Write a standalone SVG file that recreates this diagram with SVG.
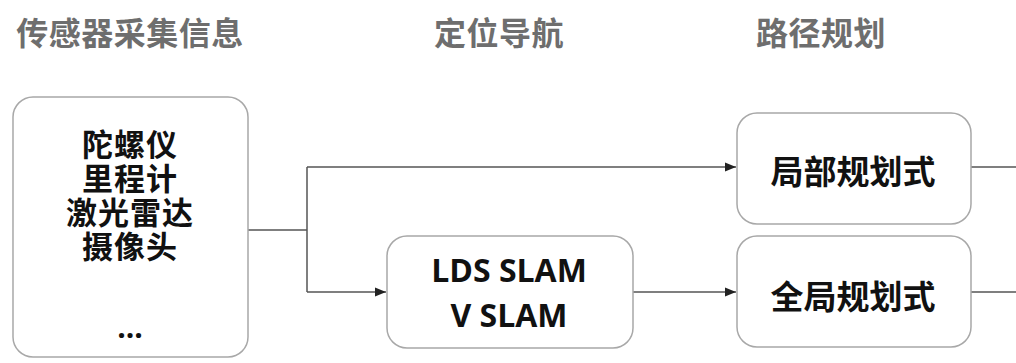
<svg xmlns="http://www.w3.org/2000/svg" width="1016" height="363" viewBox="0 0 1016 363">
<defs>
<marker id="arr" markerUnits="userSpaceOnUse" markerWidth="12" markerHeight="10" refX="11" refY="5" orient="auto">
<path d="M0,0.5 L11,5 L0,9.5 Z" fill="#222"/>
</marker>
<style>
.title{font-family:"Noto Sans CJK SC","Noto Sans",sans-serif;font-weight:bold;font-size:32px;fill:#6e6e6e;text-anchor:middle;letter-spacing:0.5px}
.box{fill:#fff;stroke:#a8a8a8;stroke-width:1.5}
.cjk{font-family:"Noto Sans CJK SC","Noto Sans",sans-serif;font-weight:bold;font-size:33px;fill:#111;text-anchor:middle}
.list{font-family:"Noto Sans CJK SC","Noto Sans",sans-serif;font-weight:bold;font-size:31px;fill:#111;text-anchor:middle;letter-spacing:1px}
.lat{font-family:"Open Sans","Noto Sans",sans-serif;font-weight:bold;font-size:32px;fill:#111;text-anchor:middle}
.conn{fill:none;stroke:#555;stroke-width:1.5}
</style>
</defs>
<rect width="1016" height="363" fill="#fff"/>
<g id="titles">
<text class="title" x="130" y="45">传感器采集信息</text>
<text class="title" x="499" y="45">定位导航</text>
<text class="title" x="821" y="45">路径规划</text>
</g>
<g id="connectors">
<path class="conn" d="M248,230 H307"/>
<path class="conn" d="M307,167 V292"/>
<path class="conn" d="M307,167 H736" marker-end="url(#arr)"/>
<path class="conn" d="M307,292 H386" marker-end="url(#arr)"/>
<path class="conn" d="M633,292 H736" marker-end="url(#arr)"/>
<path class="conn" d="M971,167 H1016"/>
<path class="conn" d="M971,292 H1016"/>
</g>
<g id="sensors">
<rect class="box" x="13" y="97" width="235" height="260" rx="20"/>
<text class="list"><tspan x="130" y="156">陀螺仪</tspan><tspan x="130" y="190">里程计</tspan><tspan x="130" y="224">激光雷达</tspan><tspan x="130" y="258">摄像头</tspan></text>
<text class="lat" x="130" y="338" style="font-size:30px">...</text>
</g>
<g id="slam">
<rect class="box" x="387" y="236" width="246" height="112" rx="20"/>
<text class="lat" x="509" y="282">LDS SLAM</text>
<text class="lat" x="509" y="327">V SLAM</text>
</g>
<g id="local">
<rect class="box" x="737" y="113" width="234" height="111" rx="20"/>
<text class="cjk" x="853" y="184">局部规划式</text>
</g>
<g id="global">
<rect class="box" x="737" y="236" width="234" height="111" rx="20"/>
<text class="cjk" x="853" y="309">全局规划式</text>
</g>
</svg>
